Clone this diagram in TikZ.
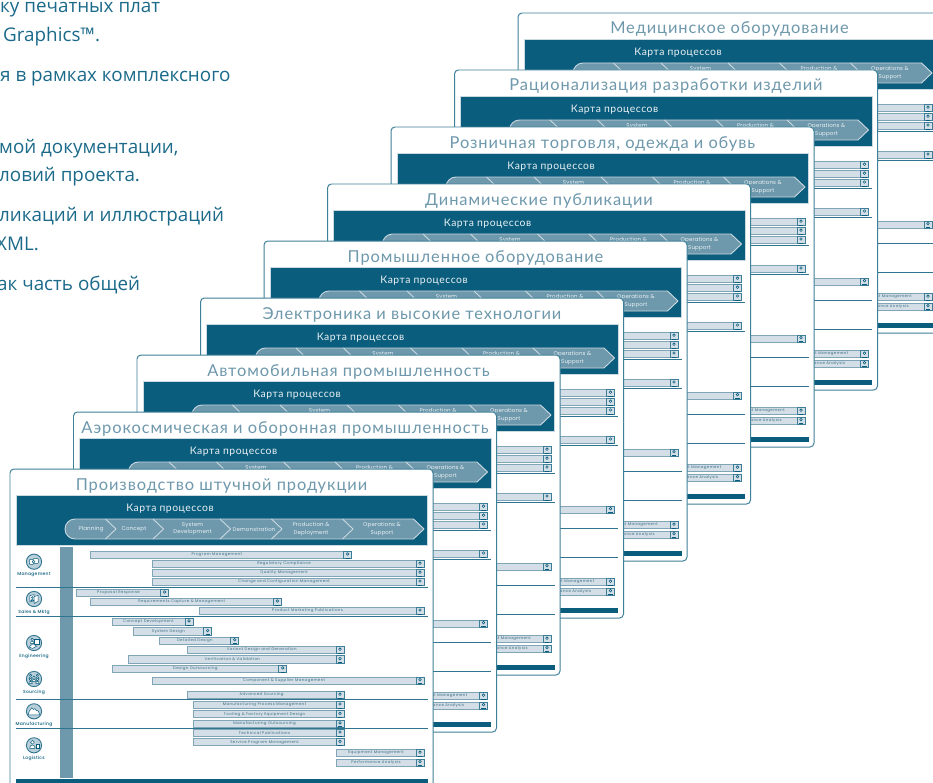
\documentclass[tikz,border=0pt]{standalone}
\usepackage{fontspec}
\setmainfont{Open Sans}
\newfontfamily\ttlf[LetterSpace=5.6]{Lato}
\newfontfamily\mapf[LetterSpace=5]{Lato}
\newfontfamily\chevf[LetterSpace=3]{Poppins}
\newfontfamily\barf[LetterSpace=10]{Poppins}
\newfontfamily\catf[LetterSpace=6]{Poppins Medium}
\definecolor{teal}{HTML}{0B5D7D}
\definecolor{tealmid}{HTML}{6E98AC}
\definecolor{frameC}{HTML}{3F8099}
\definecolor{barfill}{HTML}{D3DEE6}
\definecolor{baredge}{HTML}{7FA5B7}
\definecolor{bandedge}{HTML}{CBD9E1}
\definecolor{ttl}{HTML}{6E98AC}
\definecolor{bartext}{HTML}{3D6F87}
\definecolor{leadtext}{HTML}{1B6A8A}
\definecolor{iconfill}{HTML}{B9CFDA}
\newcount\nodeno
\newcommand{\nnode}{\global\advance\nodeno 1\relax\node[name=n\the\nodeno]}
\tikzset{
  cardshape/.style={fill=white,draw=frameC,line width=1},
  headerbox/.style={fill=teal,draw=bandedge,line width=.5},
  sidebar/.style={fill=tealmid,draw=none},
  foot/.style={fill=teal,draw=none},
  rulel/.style={draw=teal!85!white,line width=.9},
  bandshape/.style={fill=tealmid,draw=bandedge,line width=.9,line join=round},
  sepline/.style={draw=bandedge,line width=.9,line join=round},
  ttltext/.style={text=ttl,font=\ttlf\fontsize{16.5}{17}\selectfont,inner sep=0pt,anchor=base},
  maptext/.style={text=white!92!teal,font=\mapf\fontsize{10.4}{12}\selectfont,inner sep=0pt},
  chevtext/.style={text=white!92!teal,font=\chevf\fontsize{5.5}{7.3}\selectfont,inner sep=0pt,align=center},
  bartxt/.style={text=bartext,font=\barf\fontsize{3.9}{4}\selectfont,inner sep=0pt},
  cattxt/.style={text=teal,font=\catf\fontsize{4.5}{5}\selectfont,inner sep=0pt},
  barshape/.style={fill=barfill,draw=baredge,line width=.8},
  lenssq/.style={fill=barfill,draw=teal!80!white,line width=.6},
  lens/.style={draw=teal,line width=.6,fill=white},
  icn/.style={fill=iconfill,draw=teal!85!white,line width=.9},
  glyph/.style={fill=white,draw=teal,line width=.5},
  leadt/.style={text=leadtext,font=\fontsize{18.9}{20}\selectfont,inner sep=0pt,anchor=base west}
}
% a process bar: x1 x2 y1 y2 label
\newcommand{\pbar}[5]{%
  \draw[barshape] (#1,#3) rectangle (#2,#4);
  \draw[lenssq] ({#2-8},#3) rectangle (#2,#4);
  \draw[lens] ({#2-4},{(#3+#4)/2-.8}) circle (1.3);
  \draw[teal,line width=.6] ({#2-6.2},{#4-.4}) -- ({#2-1.8},{#4-.4});
  \nnode[bartxt] at ({(#1+#2-8)/2},{(#3+#4)/2}) {#5};
}
\newcommand{\icircle}[3]{%
  \draw[icn] (34,#1) circle (7.6);
  \begin{scope}[shift={(34,#1)}] #2 \end{scope}
  \nnode[cattxt] at (34,{#1+13}) {#3};
}
\newcommand{\person}[3]{% x y scale
  \draw[glyph] (#1,{#2-1.6*#3}) circle ({1.4*#3});
  \draw[glyph] ({#1-2*#3},{#2+2.8*#3}) .. controls ({#1-2*#3},{#2-.4*#3}) and ({#1+2*#3},{#2-.4*#3}) .. ({#1+2*#3},{#2+2.8*#3}) -- cycle;
}
\newcommand{\cardbody}{%
  \draw[headerbox] (16,495) rectangle (427.5,545.5);
  \nnode[maptext] at (170,508.5) {Карта процессов};
  % chevron band
  \draw[bandshape] (75,519) -- (413.5,519) -- (424,529) -- (413.5,539) -- (75,539) arc[start angle=90,end angle=270,radius=10] -- cycle;
  \draw[sepline] (105.5,519) -- (116,529) -- (105.5,539);
  \draw[sepline] (153,519) -- (163.5,529) -- (153,539);
  \draw[sepline] (220,519) -- (230.5,529) -- (220,539);
  \draw[sepline] (271.5,519) -- (282,529) -- (271.5,539);
  \draw[sepline] (342.5,519) -- (353,529) -- (342.5,539);
  \nnode[chevtext] at (91,529) {Planning};
  \nnode[chevtext] at (134,529) {Concept};
  \nnode[chevtext] at (192.5,529) {System\\Development};
  \nnode[chevtext] at (254,529) {Demonstration};
  \nnode[chevtext] at (311,529) {Production \&\\Deployment};
  \nnode[chevtext] at (382,529) {Operations \&\\Support};
  % left column
  \fill[sidebar] (60,547) rectangle (72.7,777.7);
  % bars
  \pbar{90}{351.7}{551.3}{558.3}{Program Management}
  \pbar{152}{424}{560.7}{567.3}{Regulatory Compliance}
  \pbar{152}{424}{569.7}{576.3}{Quality Management}
  \pbar{152}{424}{578.3}{585.3}{Change and Configuration Management}
  \pbar{76.5}{168.6}{589.3}{596.3}{Proposal Response}
  \pbar{90}{281.3}{598.3}{605.3}{Requirements Capture \& Management}
  \pbar{199}{424}{607.3}{614.3}{Product Marketing Publications}
  \pbar{112}{193}{618}{625.3}{Concept Development}
  \pbar{133}{211.7}{627.7}{635}{System Design}
  \pbar{159}{238.7}{637}{644}{Detailed Design}
  \pbar{187.3}{344}{646.3}{653.7}{Variant Design and Generation}
  \pbar{128.7}{344}{655.7}{663}{Verification \& Validation}
  \pbar{112}{286.7}{665}{672.3}{Design Outsourcing}
  \pbar{152}{424}{677}{684}{Component \& Supplier Management}
  \pbar{187.3}{344}{691.3}{698.7}{Advanced Sourcing}
  \pbar{193}{344}{701.3}{708.3}{Manufacturing Process Management}
  \pbar{193}{344}{710.7}{717.7}{Tooling \& Factory Equipment Design}
  \pbar{193}{344}{720.3}{727}{Manufacturing Outsourcing}
  \pbar{193}{344}{729.3}{736.3}{Technical Publications}
  \pbar{193}{344}{738.7}{745.7}{Service Program Management}
  \pbar{336}{424}{749.3}{756.7}{Equipment Management}
  \pbar{336}{424}{759}{766}{Performance Analysis}
  % rules
  \draw[rulel] (16,587.3) -- (427.5,587.3);
  \draw[rulel] (16,616) -- (427.5,616);
  \draw[rulel] (16,699.5) -- (427.5,699.5);
  \draw[rulel] (16,728) -- (427.5,728);
  % category icons
  \icircle{561.7}{\draw[glyph,rounded corners=.6] (-4.6,-2.2) rectangle (-.4,2.6); \draw[glyph,rounded corners=.6] (-.8,-3) rectangle (4.4,1.6); \draw[glyph] (-.4,0) circle (1.3);}{Management}
  \icircle{599}{\draw[glyph] (-4.2,-3.4) -- (.2,-4.4) -- (.2,1.8) -- (-4.2,3) -- cycle; \draw[glyph] (.2,-2.6) -- (4.2,-3.6) -- (4.2,2.4) -- (.2,4.4) -- cycle; \person{-1.6}{-.4}{.7}}{Sales \& Mktg}
  \icircle{643}{\person{-1.8}{-2.2}{.9} \draw[glyph] (-.2,-3.6) rectangle (5,.8); \draw[glyph] (-5,4) -- (-1,.6) -- (2.6,3.2) -- (-1.4,5.4) -- cycle;}{Engineering}
  \icircle{679}{\person{-3.4}{-2.4}{.85} \person{3.4}{-2.4}{.85} \person{-3.4}{2}{.85} \person{3.4}{2}{.85} \person{0}{-.2}{.95}}{Sourcing}
  \icircle{711.3}{\draw[glyph,line join=round] (-6,3.6) -- (-4.6,-.4) -- (-2.4,-3.4) -- (-.6,-1.8) -- (.8,-2.8) -- (2.4,-.8) -- (4,-.6) -- (6,3.6) -- cycle;}{Manufacturing}
  \icircle{745.3}{\person{-1.6}{-.8}{1.35} \draw[glyph] (2,-.6) rectangle (5,3.4);}{Logistics}
  \fill[foot] (16,779.3) rectangle (427.5,784);
}
\newcommand{\pcard}[2]{%
  \begin{scope}[shift={({63.5*#1},{-57*#1})}]
    \draw[cardshape,rounded corners=4] (10,789) -- (10,469) -- (433,469) -- (433,789) -- cycle;
    \cardbody
    \nnode[ttltext] at (221.5,490) {#2};
  \end{scope}
}
\begin{document}
\begin{tikzpicture}[x=1bp,y=-1bp]
\useasboundingbox (0,0) rectangle (933,783);
\clip (0,0) rectangle (933,783);
\fill[white] (0,0) rectangle (933,783);
\node[leadt] (lead1) at (0,13) {ку печатных плат};
\node[leadt] (lead2) at (3,41.7) {Graphics™.};
\node[leadt] (lead3) at (0,82) {я в рамках комплексного};
\node[leadt] (lead4) at (-1,153) {мой документации,};
\node[leadt] (lead5) at (-1,181) {ловий проекта.};
\node[leadt] (lead6) at (-1,221.7) {ликаций и иллюстраций};
\node[leadt] (lead7) at (-4,250) {XML.};
\node[leadt] (lead8) at (-3,290) {ак часть общей};
\pcard{8}{Медицинское оборудование}
\pcard{7}{Рационализация разработки изделий}
\pcard{6}{Розничная торговля, одежда и обувь}
\pcard{5}{Динамические публикации}
\pcard{4}{Промышленное оборудование}
\pcard{3}{Электроника и высокие технологии}
\pcard{2}{Автомобильная промышленность}
\pcard{1}{Аэрокосмическая и оборонная промышленность}
\pcard{0}{Производство штучной продукции}
\end{tikzpicture}
\end{document}
